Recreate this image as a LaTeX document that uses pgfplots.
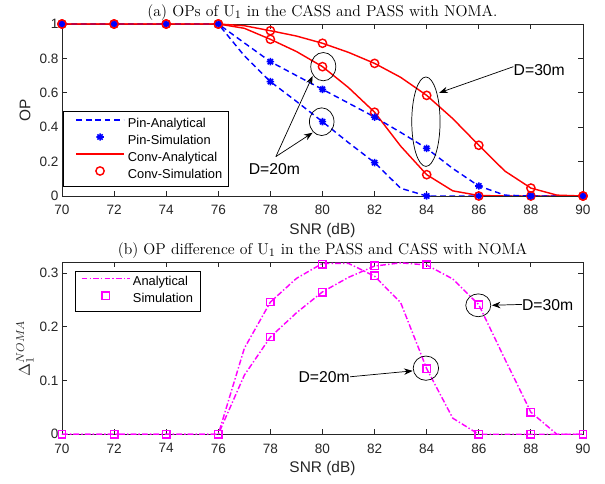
\documentclass[border=0pt]{standalone}
\usepackage{pgfplots}
\pgfplotsset{compat=1.18}
\usepackage{fontspec}
\newfontfamily\arial{Liberation Sans}
\usetikzlibrary{arrows.meta}

\definecolor{mblue}{RGB}{0,0,255}
\definecolor{mred}{RGB}{255,0,0}
\definecolor{mmag}{RGB}{255,0,255}
\definecolor{axgray}{RGB}{38,38,38}

\pgfdeclareplotmark{mstar}{%
 \pgfpathmoveto{\pgfqpoint{-\pgfplotmarksize}{0pt}}\pgfpathlineto{\pgfqpoint{\pgfplotmarksize}{0pt}}%
 \pgfpathmoveto{\pgfqpoint{0pt}{-\pgfplotmarksize}}\pgfpathlineto{\pgfqpoint{0pt}{\pgfplotmarksize}}%
 \pgfpathmoveto{\pgfqpoint{-0.707\pgfplotmarksize}{-0.707\pgfplotmarksize}}\pgfpathlineto{\pgfqpoint{0.707\pgfplotmarksize}{0.707\pgfplotmarksize}}%
 \pgfpathmoveto{\pgfqpoint{-0.707\pgfplotmarksize}{0.707\pgfplotmarksize}}\pgfpathlineto{\pgfqpoint{0.707\pgfplotmarksize}{-0.707\pgfplotmarksize}}%
 \pgfusepathqstroke}

\pgfplotsset{
 mystyle/.style={
  scale only axis, width=364.7pt, height=120.4pt,
  xmin=70, xmax=90, xtick={70,72,...,90},
  axis line style={draw=axgray, line width=0.6pt},
  tick style={draw=axgray, line width=0.6pt},
  tick align=inside, major tick length=3.5pt,
  xtick pos=both, ytick pos=both,
  /pgf/number format/assume math mode=true,
  ticklabel style={font=\arial\fontsize{9.5}{11}\selectfont, text=axgray},
  xticklabel style={yshift=-3pt},
  yticklabel style={xshift=1pt},
  xlabel={SNR (dB)},
  every axis x label/.style={at={(axis description cs:0.5,0)}, anchor=center, yshift=-24pt, font=\arial\fontsize{10.8}{12}\selectfont, text=axgray},
  every axis y label/.style={at={(axis description cs:0,0.5)}, anchor=center, rotate=90, yshift=25.9pt, font=\arial\fontsize{10.8}{12}\selectfont, text=axgray},
  every axis title/.style={font=\fontsize{11}{13}\selectfont, at={(axis description cs:0.5,1)}, anchor=base, yshift=5.5pt},
  legend cell align=left,
 }
}

\pgfplotstableread{
x pin20 pin30 conv20 conv30
70 1 1 1 1
71 1 1 1 1
72 1 1 1 1
73 1 1 1 1
74 1 1 1 1
75 1 1 1 1
76 1 1 1 1
77 0.815 0.89 0.975 0.99
78 0.665 0.781 0.911 0.961
79 0.55 0.70 0.84 0.93
80 0.432 0.62 0.752 0.888
81 0.31 0.54 0.63 0.835
82 0.194 0.459 0.487 0.771
83 0.045 0.37 0.29 0.69
84 0 0.277 0.124 0.585
85 0 0.16 0.03 0.45
86 0 0.058 0.003 0.295
87 0 0.005 0 0.145
88 0 0 0 0.046
89 0 0 0 0.005
90 0 0 0 0
}\anaTop

\pgfplotstableread{
x pin20 pin30 conv20 conv30
70 1 1 1 1
72 1 1 1 1
74 1 1 1 1
76 1 1 1 1
78 0.665 0.781 0.911 0.961
80 0.432 0.62 0.752 0.888
82 0.194 0.459 0.487 0.771
84 0 0.277 0.124 0.585
86 0 0.058 0 0.295
88 0 0 0 0.046
90 0 0 0 0
}\simTop

\pgfplotstableread{
x d20 d30
70 0 0
71 0 0
72 0 0
73 0 0
74 0 0
75 0 0
76 0 0
77 0.16 0.11
78 0.246 0.181
79 0.29 0.226
80 0.318 0.265
81 0.318 0.292
82 0.294 0.313
83 0.245 0.319
84 0.122 0.315
85 0.03 0.289
86 0 0.241
87 0 0.14
88 0 0.041
89 0 0
90 0 0
}\anaBot

\pgfplotstableread{
x d20 d30
70 0 0
72 0 0
74 0 0
76 0 0
78 0.246 0.181
80 0.316 0.2645
82 0.295 0.3137
84 0.122 0.3155
86 0 0.241
88 0 0.041
90 0 0
}\simBot

\begin{document}
\begin{tikzpicture}
% ---------- top axis ----------
\begin{axis}[mystyle,
  at={(0pt,166.8pt)}, anchor=south west,
  ymin=0, ymax=1, ytick={0,0.2,...,1},
  ylabel={OP},
  title={(a) OPs of U$_1$ in the CASS and PASS with NOMA.},
  legend style={at={(axis description cs:0.002,0.052)}, anchor=south west,
    draw=black, line width=0.5pt, fill=white,
    inner xsep=3.2pt, inner ysep=2.9pt, row sep=0.9pt, column sep=1.5pt,
    nodes={inner sep=1pt, text height=7pt, text depth=2pt, font=\arial\fontsize{9}{10}\selectfont, text=black}},
  legend image code/.code={\path (0pt,0pt); \draw[mark repeat=2,mark phase=2,#1] plot coordinates {(5.4pt,2.6pt) (21.9pt,2.6pt) (38.4pt,2.6pt)};},
]
\addplot[mblue, line width=1pt, dash pattern=on 4pt off 2.6pt] table[x=x,y=pin20]{\anaTop};
\addlegendentry{Pin-Analytical}
\addplot[mblue, only marks, mark=mstar, mark size=2.6pt, line width=1.1pt] table[x=x,y=pin20]{\simTop};
\addlegendentry{Pin-Simulation}
\addplot[mred, line width=1pt] table[x=x,y=conv20]{\anaTop};
\addlegendentry{Conv-Analytical}
\addplot[mred, only marks, mark=o, mark size=2.9pt, line width=1pt] table[x=x,y=conv20]{\simTop};
\addlegendentry{Conv-Simulation}
\addplot[mblue, line width=1pt, dash pattern=on 4pt off 2.6pt, forget plot] table[x=x,y=pin30]{\anaTop};
\addplot[mblue, only marks, mark=mstar, mark size=2.6pt, line width=1.1pt, forget plot] table[x=x,y=pin30]{\simTop};
\addplot[mred, line width=1pt, forget plot] table[x=x,y=conv30]{\anaTop};
\addplot[mred, only marks, mark=o, mark size=2.9pt, line width=1pt, forget plot] table[x=x,y=conv30]{\simTop};
% annotations
\draw[black, line width=0.5pt] (axis cs:80.03,0.752) ellipse [x radius=8.75pt, y radius=9.9pt];
\draw[black, line width=0.5pt] (axis cs:79.97,0.432) ellipse [x radius=8.6pt, y radius=9.7pt];
\draw[black, line width=0.5pt] (axis cs:83.97,0.432) ellipse [x radius=9.9pt, y radius=31.3pt];
\node[anchor=center, inner sep=0pt, font=\arial\fontsize{11}{12}\selectfont] at (axis cs:78.15,0.157) {D=20m};
\draw[black, line width=0.5pt, -{Stealth[length=6pt, width=4.5pt]}] (axis cs:78.21,0.229) -- (axis cs:79.62,0.698);
\draw[black, line width=0.5pt, -{Stealth[length=6pt, width=4.5pt]}] (axis cs:78.21,0.229) -- (axis cs:79.62,0.368);
\node[anchor=west, inner sep=0pt, font=\arial\fontsize{11}{12}\selectfont] at (axis cs:87.33,0.733) {D=30m};
\draw[black, line width=0.5pt, -{Stealth[length=6pt, width=4.5pt]}] (axis cs:87.33,0.752) -- (axis cs:84.48,0.60);
\end{axis}
% ---------- bottom axis ----------
\begin{axis}[mystyle,
  at={(0pt,0pt)}, anchor=south west,
  ymin=0, ymax=0.32, ytick={0,0.1,0.2,0.3},
  ylabel={$\Delta_1^{NOMA}$},
  title={(b) OP difference of U$_1$ in the PASS and CASS with NOMA},
  legend style={at={(axis description cs:0.025,0.952)}, anchor=north west,
    draw=black, line width=0.5pt, fill=white,
    inner xsep=3.9pt, inner ysep=2.55pt, row sep=0.9pt, column sep=0.8pt,
    nodes={inner sep=1pt, text height=7pt, text depth=2pt, font=\arial\fontsize{9}{10}\selectfont, text=black}},
  legend image code/.code={\draw[mark repeat=2,mark phase=2,#1] plot coordinates {(0pt,2.6pt) (16.8pt,2.6pt) (33.6pt,2.6pt)};},
]
\addplot[mmag, line width=1pt, dash pattern=on 4pt off 1.5pt on 1pt off 1.5pt] table[x=x,y=d20]{\anaBot};
\addlegendentry{Analytical}
\addplot[mmag, only marks, mark=square, mark size=2.6pt, line width=1pt] table[x=x,y=d20]{\simBot};
\addlegendentry{Simulation}
\addplot[mmag, line width=1pt, dash pattern=on 4pt off 1.5pt on 1pt off 1.5pt, forget plot] table[x=x,y=d30]{\anaBot};
\addplot[mmag, only marks, mark=square, mark size=2.6pt, line width=1pt, forget plot] table[x=x,y=d30]{\simBot};
\draw[black, line width=0.5pt] (axis cs:83.97,0.123) ellipse [x radius=8.9pt, y radius=8.5pt];
\draw[black, line width=0.5pt] (axis cs:85.98,0.240) ellipse [x radius=8.75pt, y radius=8pt];
\node[anchor=west, inner sep=0pt, font=\arial\fontsize{11}{12}\selectfont] at (axis cs:79.07,0.106) {D=20m};
\draw[black, line width=0.5pt, -{Stealth[length=6pt, width=4.5pt]}] (axis cs:81.06,0.107) -- (axis cs:83.46,0.118);
\node[anchor=west, inner sep=0pt, font=\arial\fontsize{11}{12}\selectfont] at (axis cs:87.65,0.240) {D=30m};
\draw[black, line width=0.5pt, -{Stealth[length=6pt, width=4.5pt]}] (axis cs:87.65,0.2416) -- (axis cs:86.5,0.240);
\end{axis}
\pgfresetboundingbox
\path[use as bounding box] (-43.4pt,-34.1pt) rectangle (380.1pt,304pt);
\end{tikzpicture}
\end{document}
